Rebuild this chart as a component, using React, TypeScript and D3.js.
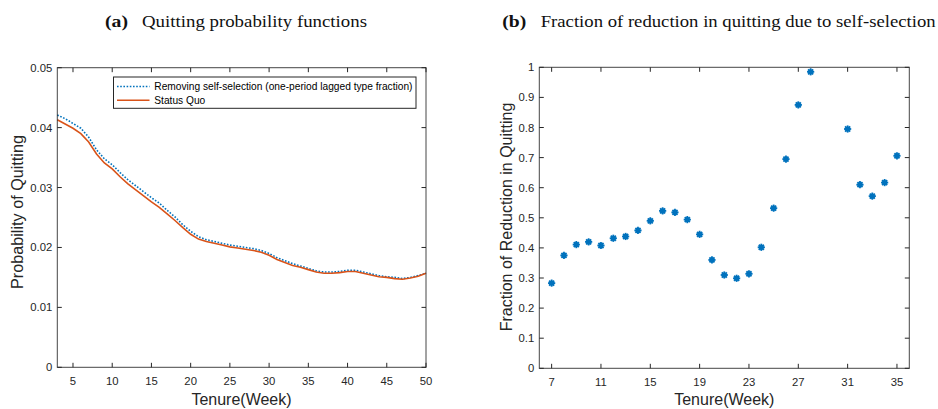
import React from "react";
import * as d3 from "d3";

// ---- Data ----
const weeks: number[] = d3.range(3, 51);
const statusQuo: number[] = [
  0.0413, 0.0406, 0.0399, 0.0390, 0.0376, 0.0356, 0.0341, 0.0331, 0.0318, 0.0306,
  0.0296, 0.0286, 0.0276, 0.0267, 0.0256, 0.0245, 0.0233, 0.0222, 0.0214, 0.0210,
  0.0207, 0.0204, 0.0201, 0.0199, 0.0197, 0.0195, 0.0192, 0.0187, 0.0180, 0.0175,
  0.0170, 0.0167, 0.0163, 0.0159, 0.0157, 0.0157, 0.0158, 0.0160, 0.0160, 0.0157,
  0.0154, 0.0151, 0.0150, 0.0148, 0.0147, 0.0149, 0.0152, 0.0157,
];
const removingSelection: number[] = [
  0.0421, 0.0415, 0.0407, 0.0399, 0.0384, 0.0363, 0.0348, 0.0338, 0.0325, 0.0313,
  0.0303, 0.0293, 0.0283, 0.0274, 0.0262, 0.0251, 0.0238, 0.0227, 0.0218, 0.0213,
  0.0210, 0.0207, 0.0204, 0.0202, 0.0200, 0.0198, 0.0195, 0.0190, 0.0183, 0.0178,
  0.0173, 0.0169, 0.0165, 0.0161, 0.0159, 0.0159, 0.0160, 0.0162, 0.0162, 0.0159,
  0.0156, 0.0153, 0.0151, 0.0150, 0.0148, 0.0150, 0.0153, 0.0157,
];
const leftXTicks: number[] = [5, 10, 15, 20, 25, 30, 35, 40, 45, 50];
const leftYTicks: number[] = [0, 0.01, 0.02, 0.03, 0.04, 0.05];

const fracWeeks: number[] = [7, 8, 9, 10, 11, 12, 13, 14, 15, 16, 17, 18, 19, 20, 21, 22, 23, 24, 25, 26, 27, 28, 31, 32, 33, 34, 35];
const fracValues: number[] = [
  0.283, 0.375, 0.411, 0.420, 0.408, 0.432, 0.438, 0.458, 0.490, 0.523, 0.518, 0.494,
  0.445, 0.360, 0.310, 0.299, 0.314, 0.402, 0.532, 0.695, 0.875, 0.985, 0.795, 0.610,
  0.572, 0.617, 0.706,
];
const rightXTicks: number[] = [7, 11, 15, 19, 23, 27, 31, 35];
const rightYTicks: number[] = [0, 0.1, 0.2, 0.3, 0.4, 0.5, 0.6, 0.7, 0.8, 0.9, 1];

const BLUE = "#0072BD";
const ORANGE = "#D95319";
const AX = "#262626";
const SANS = "'Liberation Sans', Arial, Helvetica, sans-serif";
const SERIF = "'Liberation Serif', 'DejaVu Serif', serif";

function AxesBox({ x, y, xTicks, yTicks, fmtY }: any) {
  const [x0, x1] = x.range();
  const [y0, y1] = y.range();
  const tl = 4.5;
  return (
    <g>
      <rect x={x0} y={y1} width={x1 - x0} height={y0 - y1} fill="none" stroke={AX} strokeWidth={1} opacity={0.85} />
      {xTicks.map((t: number) => (
        <g key={"x" + t}>
          <line x1={x(t)} x2={x(t)} y1={y0} y2={y0 - tl} stroke={AX} strokeWidth={1} />
          <line x1={x(t)} x2={x(t)} y1={y1} y2={y1 + tl} stroke={AX} strokeWidth={1} />
          <text x={x(t)} y={y0 + 17.5} textAnchor="middle" fontFamily={SANS} fontSize={11.3} fill={AX}>
            {t}
          </text>
        </g>
      ))}
      {yTicks.map((t: number) => (
        <g key={"y" + t}>
          <line x1={x0} x2={x0 + tl} y1={y(t)} y2={y(t)} stroke={AX} strokeWidth={1} />
          <line x1={x1} x2={x1 - tl} y1={y(t)} y2={y(t)} stroke={AX} strokeWidth={1} />
          <text x={x0 - 5} y={y(t) + 4} textAnchor="end" fontFamily={SANS} fontSize={11.3} fill={AX}>
            {fmtY(t)}
          </text>
        </g>
      ))}
    </g>
  );
}

function Asterisk({ cx, cy }: { cx: number; cy: number }) {
  const r = 3.6;
  const angles = [0, 45, 90, 135];
  return (
    <g>
      <circle cx={cx} cy={cy} r={2.6} fill={BLUE} />
      {angles.map((a) => {
        const rad = (a * Math.PI) / 180;
        const dx = Math.cos(rad) * r;
        const dy = Math.sin(rad) * r;
        return <line key={a} x1={cx - dx} y1={cy - dy} x2={cx + dx} y2={cy + dy} stroke={BLUE} strokeWidth={1.8} />;
      })}
    </g>
  );
}

export default function App() {
  // Left panel
  const xL = d3.scaleLinear().domain([3, 50]).range([57.3, 426]);
  const yL = d3.scaleLinear().domain([0, 0.05]).range([367.3, 67.7]);
  const line = d3
    .line<number>()
    .x((_, i) => xL(weeks[i]))
    .y((d) => yL(d));

  // Right panel
  const xR = d3.scaleLinear().domain([6, 36]).range([539.3, 909.3]);
  const yR = d3.scaleLinear().domain([0, 1]).range([368.3, 67.3]);

  const fmtL = (t: number) => (t === 0 ? "0" : d3.format(".2f")(t));
  const fmtR = (t: number) => (t === 0 ? "0" : t === 1 ? "1" : d3.format(".1f")(t));

  return (
    <svg
      width={938}
      height={409}
      style={{ position: "absolute", left: 0, top: 0, background: "#fff" }}
    >
      <rect width={938} height={409} fill="#fff" />
      {/* Titles */}
      <text x={105} y={27} fontFamily={SERIF} fontSize={16.5} fill="#111" fontWeight="bold" textLength={23} lengthAdjust="spacingAndGlyphs">
        (a)
      </text>
      <text x={142} y={27} fontFamily={SERIF} fontSize={16.5} fill="#111" textLength={225} lengthAdjust="spacingAndGlyphs">
        Quitting probability functions
      </text>
      <text x={502.3} y={27} fontFamily={SERIF} fontSize={16.5} fill="#111" fontWeight="bold" textLength={24} lengthAdjust="spacingAndGlyphs">
        (b)
      </text>
      <text x={540.7} y={27} fontFamily={SERIF} fontSize={16.5} fill="#111" textLength={395} lengthAdjust="spacingAndGlyphs">
        Fraction of reduction in quitting due to self-selection
      </text>

      {/* Left chart */}
      <g>
        <path d={line(removingSelection) || ""} fill="none" stroke={BLUE} strokeWidth={1.6} strokeDasharray="1.6 1.6" />
        <path d={line(statusQuo) || ""} fill="none" stroke={ORANGE} strokeWidth={1.6} />
        <AxesBox x={xL} y={yL} xTicks={leftXTicks} yTicks={leftYTicks} fmtY={fmtL} />
        {/* Legend */}
        <rect x={113.5} y={77} width={302.5} height={31.3} fill="#fff" stroke={AX} strokeWidth={1} />
        <line x1={117} x2={149.5} y1={86.5} y2={86.5} stroke={BLUE} strokeWidth={1.6} strokeDasharray="1.6 1.6" />
        <line x1={117} x2={149.5} y1={100.3} y2={100.3} stroke={ORANGE} strokeWidth={1.6} />
        <text x={154.3} y={90.3} fontFamily={SANS} fontSize={10.2} fill="#000">
          Removing self-selection (one-period lagged type fraction)
        </text>
        <text x={154.3} y={104.1} fontFamily={SANS} fontSize={10.2} fill="#000">
          Status Quo
        </text>
        <text x={241.5} y={405} textAnchor="middle" fontFamily={SANS} fontSize={16} fill={AX}>
          Tenure(Week)
        </text>
        <text
          transform={`translate(23, 212) rotate(-90)`}
          textAnchor="middle"
          fontFamily={SANS}
          fontSize={16.2}
          fill={AX}
        >
          Probability of Quitting
        </text>
      </g>

      {/* Right chart */}
      <g>
        <AxesBox x={xR} y={yR} xTicks={rightXTicks} yTicks={rightYTicks} fmtY={fmtR} />
        {fracWeeks.map((w, i) => (
          <Asterisk key={w} cx={xR(w)} cy={yR(fracValues[i])} />
        ))}
        <text x={724.3} y={405} textAnchor="middle" fontFamily={SANS} fontSize={16} fill={AX}>
          Tenure(Week)
        </text>
        <text
          transform={`translate(512, 217) rotate(-90)`}
          textAnchor="middle"
          fontFamily={SANS}
          fontSize={16}
          fill={AX}
        >
          Fraction of Reduction in Quitting
        </text>
      </g>
    </svg>
  );
}
